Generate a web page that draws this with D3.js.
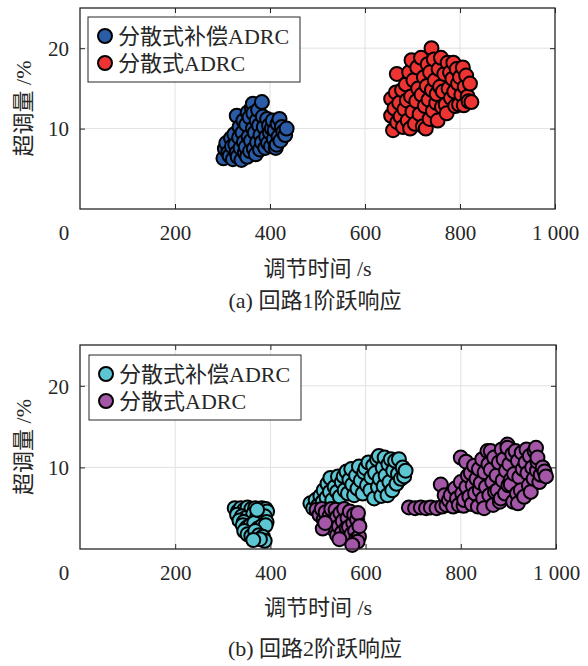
<!DOCTYPE html>
<html><head><meta charset="utf-8">
<script src="https://cdn.jsdelivr.net/npm/d3@7/dist/d3.min.js"></script>
<style>
html,body{margin:0;padding:0;background:#fff;}
svg{display:block;}
text{font-family:"Liberation Serif","Times New Roman","Noto Sans CJK SC",serif;fill:#262626;}
</style></head>
<body>
<svg id="chart" width="588" height="666"></svg>
<script>
// ---------- data ----------
const xTicks = [200, 400, 600, 800, 1000];
const yTicks = [10, 20];
const seriesNames = ["分散式补偿ADRC", "分散式ADRC"];
const xLabel = "调节时间 /s";
const yLabel = "超调量 /%";
const captions = ["(a) 回路1阶跃响应", "(b) 回路2阶跃响应"];

// Loop 1: compensated ADRC (blue)
const loop1Comp = [[302,6.3],[305,7.5],[308,8.2],[312,7.0],[315,6.6],[318,8.8],[320,7.8],[322,6.2],[325,9.3],[327,8.0],[330,11.6],[330,7.0],[332,6.5],[335,8.9],[336,10.2],[338,7.6],[340,6.1],[342,9.5],[344,11.0],[345,8.3],[347,7.0],[349,7.7],[350,10.5],[352,6.5],[353,12.0],[355,9.0],[357,11.4],[358,7.2],[360,8.5],[362,12.6],[364,13.1],[364,10.0],[365,11.9],[366,7.5],[368,9.5],[370,6.8],[372,11.0],[373,8.3],[375,12.3],[377,10.4],[379,7.4],[380,9.2],[383,13.3],[383,8.3],[385,11.5],[387,10.2],[390,7.6],[392,9.0],[394,11.2],[396,8.2],[398,10.4],[400,9.5],[402,7.8],[404,10.0],[406,11.0],[408,8.7],[410,9.8],[412,7.6],[414,8.0],[416,10.6],[418,9.0],[420,11.2],[422,8.5],[425,10.2],[428,9.6],[432,9.2],[435,10.0]];
// Loop 1: ADRC (red)
const loop1Adrc = [[655,13.7],[655,11.6],[659,9.8],[662,12.5],[665,14.5],[667,16.8],[668,10.8],[672,13.2],[675,11.5],[678,14.8],[680,10.2],[683,12.4],[686,15.5],[688,13.5],[690,11.0],[693,17.0],[695,10.0],[697,14.0],[698,18.5],[700,12.1],[702,16.0],[705,10.6],[708,13.4],[710,17.6],[712,15.0],[715,11.8],[718,18.8],[719,14.2],[722,10.3],[724,16.4],[726,12.8],[728,10.0],[730,15.3],[732,18.0],[734,13.6],[736,11.2],[737,17.0],[740,20.0],[741,14.8],[743,12.2],[745,18.6],[747,16.0],[750,13.2],[751,14.3],[753,11.0],[755,17.4],[758,15.2],[760,18.8],[762,12.7],[764,14.6],[767,16.8],[770,13.0],[772,11.9],[774,18.2],[776,15.0],[779,17.0],[781,13.8],[784,16.2],[786,18.2],[788,14.6],[790,12.8],[793,17.4],[796,15.6],[798,13.0],[800,16.4],[803,14.2],[806,17.6],[808,12.9],[810,15.2],[813,16.6],[816,14.0],[818,13.4],[821,15.6],[824,13.3]];
// Loop 2: compensated ADRC (cyan)
const loop2Comp = [[325,5.0],[332,4.6],[338,5.0],[345,4.8],[352,5.1],[360,4.9],[368,5.0],[375,4.7],[382,5.0],[390,4.9],[393,4.6],[330,4.2],[340,4.0],[348,3.8],[356,3.4],[364,4.3],[372,3.9],[380,3.5],[388,4.0],[392,3.3],[335,3.5],[344,3.3],[342,2.9],[350,2.6],[354,2.4],[358,2.9],[366,3.2],[372,4.8],[374,2.5],[382,2.8],[390,2.9],[345,2.2],[352,1.8],[360,1.6],[368,2.2],[376,1.7],[384,1.5],[388,1.0],[378,1.2],[364,1.1],
[484,5.6],[490,5.0],[495,6.0],[500,5.3],[505,6.5],[510,5.8],[512,7.2],[518,6.3],[520,8.0],[525,7.0],[526,8.7],[530,6.0],[535,7.6],[540,7.0],[542,8.9],[546,6.4],[550,8.2],[554,8.9],[556,7.2],[560,9.5],[563,6.8],[566,8.5],[570,9.8],[572,7.9],[576,6.6],[580,9.0],[583,7.4],[586,10.1],[590,8.4],[594,6.8],[597,9.4],[600,9.9],[603,7.8],[606,10.6],[610,7.2],[612,8.8],[616,10.2],[618,6.2],[620,9.3],[624,11.0],[626,7.6],[628,11.4],[630,8.6],[633,6.5],[636,10.0],[638,7.7],[640,11.2],[642,9.0],[646,6.6],[648,10.4],[650,8.2],[653,11.0],[656,7.2],[658,9.6],[662,10.8],[665,8.0],[668,9.2],[670,11.0],[674,8.6],[678,10.0],[681,8.9],[684,9.6]];
// Loop 2: ADRC (purple)
const loop2Adrc = [[497,4.8],[503,4.2],[508,4.9],[512,3.6],[516,4.5],[520,2.9],[524,4.0],[528,4.9],[530,3.3],[533,2.4],[537,4.8],[540,1.7],[540,3.9],[544,2.8],[547,4.4],[550,2.0],[552,3.4],[555,4.9],[558,1.4],[560,2.6],[562,3.8],[565,2.7],[567,4.6],[570,1.8],[574,3.2],[576,4.2],[578,2.2],[580,1.2],[582,3.6],[584,4.4],[586,1.5],[587,2.8],[583,0.9],[545,1.2],[510,2.5],[515,3.2],[572,0.5],
[691,5.1],[704,5.0],[716,5.1],[727,5.0],[737,5.1],[749,5.0],[761,5.2],[770,5.4],[758,7.9],[766,6.6],[775,6.0],[779,6.6],[784,5.2],[788,7.4],[792,6.2],[796,5.4],[800,11.2],[800,8.2],[803,6.8],[806,5.3],[807,6.0],[811,10.7],[812,7.6],[815,9.0],[818,6.4],[821,9.3],[823,5.5],[825,7.8],[828,10.2],[830,6.8],[833,8.6],[836,5.2],[838,9.8],[840,7.2],[842,8.1],[845,11.0],[847,6.2],[849,5.0],[850,9.4],[853,7.6],[856,12.0],[858,10.4],[860,6.6],[863,9.7],[863,12.0],[866,8.2],[868,5.4],[870,11.2],[872,7.0],[875,9.0],[877,7.2],[880,10.6],[882,5.8],[884,6.2],[886,12.2],[888,8.4],[890,11.0],[893,6.8],[895,9.6],[898,12.8],[898,12.4],[900,7.8],[902,10.4],[905,8.5],[905,7.9],[908,11.6],[910,5.8],[912,9.2],[915,12.0],[918,6.8],[920,5.6],[920,10.8],[923,8.8],[926,7.2],[928,11.8],[930,9.8],[933,6.4],[936,10.6],[938,12.2],[940,9.3],[943,7.8],[945,11.4],[947,7.0],[950,10.0],[953,8.6],[955,12.0],[958,12.4],[960,9.6],[961,10.7],[961,11.2],[965,8.2],[968,9.1],[972,10.0],[976,9.5],[979,8.9]];

const panels = [
  {series:[loop1Comp, loop1Adrc], colors:["#2B5CA8","#EE3333"], caption:captions[0],
   box:{l:80,r:555,t:8,b:209}, legend:{x:88,y:17}, tickY:240, xLabY:276, capY:308},
  {series:[loop2Comp, loop2Adrc], colors:["#5CC6D2","#A357A6"], caption:captions[1],
   box:{l:80,r:556,t:345,b:549}, legend:{x:89,y:355}, tickY:580, xLabY:615, capY:656}
];

const svg = d3.select("#chart");
const R = 7;

panels.forEach(p => {
  const g = svg.append("g");
  const {l,r,t,b} = p.box;
  const x = d3.scaleLinear().domain([0,1000]).range([l,r]);
  const y = d3.scaleLinear().domain([0,25]).range([b,t]);

  // grid
  g.append("g").selectAll("line").data(xTicks.filter(v=>v<1000)).join("line")
    .attr("x1",d=>x(d)).attr("x2",d=>x(d)).attr("y1",t).attr("y2",b)
    .attr("stroke","#e2e2e2").attr("stroke-width",1);
  g.append("g").selectAll("line").data(yTicks).join("line")
    .attr("y1",d=>y(d)).attr("y2",d=>y(d)).attr("x1",l).attr("x2",r)
    .attr("stroke","#e2e2e2").attr("stroke-width",1);

  // points
  p.series.forEach((s,i) => {
    g.append("g").selectAll("circle").data(s).join("circle")
      .attr("cx",d=>x(d[0])).attr("cy",d=>y(d[1])).attr("r",R)
      .attr("fill",p.colors[i]).attr("stroke","#000").attr("stroke-width",2);
  });

  // axes (inward ticks)
  const fmt = v => v===1000 ? "1 000" : String(v);
  const ax = (gen, tr) => {
    const a = g.append("g").attr("transform",tr).call(gen);
    a.select(".domain").remove();
    a.selectAll(".tick line").attr("stroke","#262626").attr("stroke-width",1);
    return a;
  };
  const xb = ax(d3.axisBottom(x).tickValues(xTicks).tickSize(-5).tickPadding(0).tickFormat(fmt), `translate(0,${b})`);
  xb.selectAll("text").attr("y", p.tickY - b).attr("dy",null).attr("font-size",21)
    .attr("font-family","Liberation Serif").attr("fill","#262626");
  ax(d3.axisTop(x).tickValues(xTicks).tickSize(-5).tickFormat(""), `translate(0,${t})`);
  const yl = ax(d3.axisLeft(y).tickValues(yTicks).tickSize(-5).tickPadding(0), `translate(${l},0)`);
  yl.selectAll("text").attr("x",-11).attr("dy","0.35em").attr("font-size",21)
    .attr("font-family","Liberation Serif").attr("fill","#262626");
  ax(d3.axisRight(y).tickValues(yTicks).tickSize(-5).tickFormat(""), `translate(${r},0)`);

  // shared origin label
  g.append("text").attr("x",x(0)-16).attr("y",p.tickY).attr("text-anchor","middle")
    .attr("font-size",21).text("0");

  // box
  g.append("rect").attr("x",l).attr("y",t).attr("width",r-l).attr("height",b-t)
    .attr("fill","none").attr("stroke","#262626").attr("stroke-width",1.3);

  // axis labels
  g.append("text").attr("x",(l+r)/2).attr("y",p.xLabY).attr("text-anchor","middle")
    .attr("font-size",22).text(xLabel);
  g.append("text").attr("transform",`translate(31,${(t+b)/2}) rotate(-90)`)
    .attr("text-anchor","middle").attr("font-size",22).text(yLabel);
  g.append("text").attr("x",315).attr("y",p.capY).attr("text-anchor","middle")
    .attr("font-size",22).text(p.caption);

  // legend
  const lg = g.append("g").attr("transform",`translate(${p.legend.x},${p.legend.y})`);
  lg.append("rect").attr("width",212).attr("height",65).attr("fill","#fff")
    .attr("stroke","#262626").attr("stroke-width",1);
  seriesNames.forEach((name,i) => {
    const cy = 19 + i*27;
    lg.append("circle").attr("cx",17).attr("cy",cy).attr("r",R)
      .attr("fill",p.colors[i]).attr("stroke","#000").attr("stroke-width",2);
    lg.append("text").attr("x",30).attr("y",cy).attr("dy","0.36em")
      .attr("font-size",22).text(name);
  });
});
</script>
</body></html>
